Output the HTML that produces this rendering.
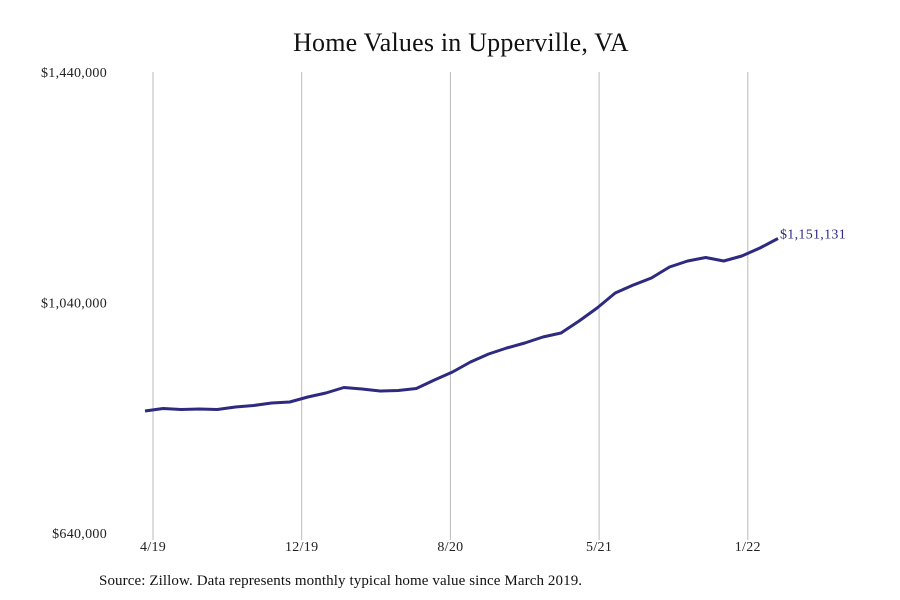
<!DOCTYPE html>
<html><head><meta charset="utf-8"><style>
body{margin:0;background:#fff;}
svg{display:block;font-family:"Liberation Serif",serif;}
</style></head><body>
<svg id="chart" width="900" height="600">
<text x="461" y="51" text-anchor="middle" font-size="26" letter-spacing="0.2" fill="#111">Home Values in Upperville, VA</text>
<g id="grid"></g><g id="yaxis"></g><g id="xaxis"></g>
<path id="line" fill="none" stroke="#2e2a80" stroke-width="3" stroke-linejoin="round"/>
<text id="lastlabel" font-size="14" letter-spacing="0.3" fill="#2e2a80"></text>
<text x="99" y="585" font-size="15" letter-spacing="0.1" fill="#111">Source: Zillow. Data represents monthly typical home value since March 2019.</text>
</svg>
<script>
const values=[851700,856000,854300,855200,854300,858700,861300,865600,867300,876000,883000,892500,889900,886400,887300,890800,905500,919400,936700,950600,961000,969700,980100,987100,1007900,1030500,1056500,1070400,1082500,1101600,1112000,1118100,1112000,1120700,1134600,1151131];
const yTicks=[640000,1040000,1440000];
const yTickLabels=["$640,000","$1,040,000","$1,440,000"];
const xTickLabels=["4/19","12/19","8/20","5/21","1/22"];
const ns="http://www.w3.org/2000/svg";
const y=v=>533-(v-640000)/800000*461;
const x=i=>145+i*(778-145)/(values.length-1);
const xt=k=>153+k*148.7;
const svg=document.getElementById('chart');
function mk(t,a,p){const e=document.createElementNS(ns,t);for(const k in a)e.setAttribute(k,a[k]);p.appendChild(e);return e;}
const grid=document.getElementById('grid'),xa=document.getElementById('xaxis'),ya=document.getElementById('yaxis');
xTickLabels.forEach((l,k)=>{
 const g=mk('line',{x1:xt(k),x2:xt(k),y1:72,y2:540,stroke:'#bbb','stroke-width':1},grid);
 
 
 const t=mk('text',{x:xt(k),y:551,'text-anchor':'middle','font-size':14,'letter-spacing':0.3,fill:'#222'},xa);
 t.textContent=l;
 
 
});
yTicks.forEach((v,i)=>{
 const t=mk('text',{x:107,y:y(v)+5,'text-anchor':'end','font-size':14,'letter-spacing':0.3,fill:'#222'},ya);
 t.textContent=yTickLabels[i];
 
 
});
document.getElementById('line').setAttribute('d',values.map((v,i)=>(i?'L':'M')+x(i).toFixed(1)+' '+y(v).toFixed(1)).join(' '));
const last=values.length-1,ll=document.getElementById('lastlabel');
ll.setAttribute('x',x(last)+2);ll.setAttribute('y',y(values[last])+0);
ll.textContent='$'+values[last].toLocaleString('en-US');
</script>
</body></html>
